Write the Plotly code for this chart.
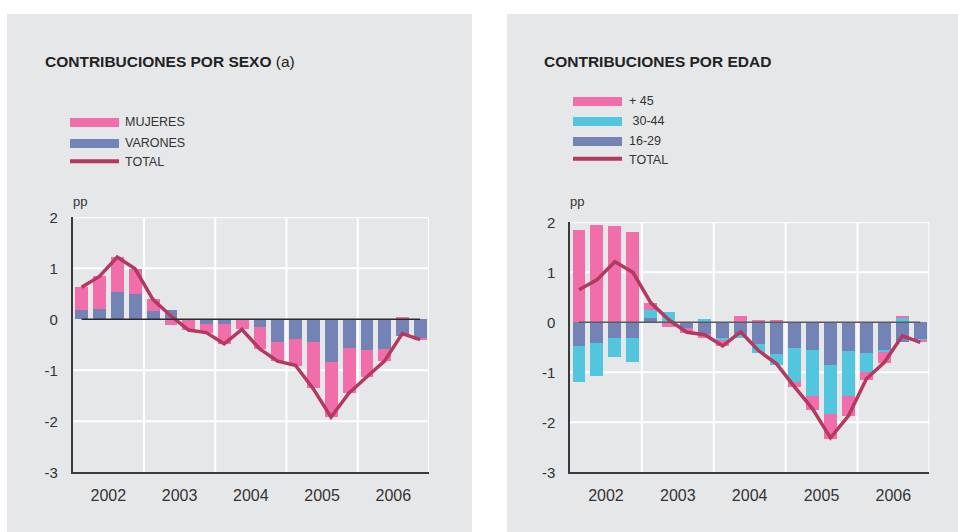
import plotly.graph_objects as go

# ---------------- data ----------------
years = ["2002", "2003", "2004", "2005", "2006"]
quarters = [f"{y} T{q}" for y in years for q in (1, 2, 3, 4)]

# Left panel: contributions by sex (pp)
varones = [0.18, 0.20, 0.53, 0.49, 0.16, 0.18, 0.00, -0.10, -0.10, 0.00,
           -0.16, -0.46, -0.40, -0.46, -0.85, -0.57, -0.61, -0.59, -0.33, -0.39]
mujeres = [0.44, 0.64, 0.69, 0.50, 0.23, -0.12, -0.21, -0.17, -0.39, -0.20,
           -0.43, -0.37, -0.52, -0.89, -1.07, -0.89, -0.52, -0.23, 0.02, -0.02]
total_sexo = [0.63, 0.84, 1.22, 0.99, 0.39, 0.07, -0.21, -0.26, -0.48, -0.20,
              -0.58, -0.82, -0.90, -1.36, -1.92, -1.45, -1.13, -0.82, -0.28, -0.40]

# Right panel: contributions by age (pp)
edad_16_29 = [-0.47, -0.41, -0.31, -0.31, 0.09, 0.00, -0.12, -0.23, -0.32, -0.25,
              -0.43, -0.63, -0.51, -0.55, -0.85, -0.57, -0.61, -0.57, -0.40, -0.35]
edad_30_44 = [-0.73, -0.67, -0.39, -0.49, 0.16, 0.20, 0.00, 0.07, -0.03, -0.06,
              -0.19, -0.23, -0.68, -0.92, -0.99, -0.90, -0.38, -0.02, 0.08, -0.02]
edad_45 = [1.85, 1.95, 1.93, 1.81, 0.14, -0.09, -0.10, -0.08, -0.13, 0.13,
           0.05, 0.05, -0.11, -0.29, -0.49, -0.40, -0.16, -0.22, 0.03, -0.03]
total_edad = [0.65, 0.85, 1.21, 1.00, 0.39, 0.05, -0.20, -0.25, -0.47, -0.19,
              -0.57, -0.83, -1.29, -1.73, -2.31, -1.87, -1.13, -0.80, -0.27, -0.40]

y_ticks = [-3, -2, -1, 0, 1, 2]
y_tick_labels = ["-3", "-2", "-1", "0", "1", "2"]

# ---------------- styles ----------------
W, H = 958, 532
PINK = "#F06EA9"
BLUE = "#7383B5"
CYAN = "#52C6DF"
LINE = "#B5385F"
BG = "#E6E7E9"
TXT = "#333333"
FONT = "Liberation Sans, Arial, sans-serif"


def px(x):
    return x / W


def py(y):
    return 1 - y / H


xpos = list(range(len(quarters)))
year_centers = [i * 4 + 1.5 for i in range(len(years))]
year_bounds = [i * 4 + 3.5 for i in range(len(years))]

fig = go.Figure()

# left panel traces
fig.add_trace(go.Bar(x=xpos, y=varones, name="VARONES", marker_color=BLUE,
                     marker_line_width=0, width=0.72, xaxis="x", yaxis="y",
                     showlegend=False))
fig.add_trace(go.Bar(x=xpos, y=mujeres, name="MUJERES", marker_color=PINK,
                     marker_line_width=0, width=0.72, xaxis="x", yaxis="y",
                     showlegend=False))
fig.add_trace(go.Scatter(x=xpos, y=total_sexo, name="TOTAL", mode="lines",
                         line=dict(color=LINE, width=3.5), xaxis="x", yaxis="y",
                         showlegend=False))

# right panel traces
fig.add_trace(go.Bar(x=xpos, y=edad_16_29, name="16-29", marker_color=BLUE,
                     marker_line_width=0, width=0.72, xaxis="x2", yaxis="y2",
                     showlegend=False))
fig.add_trace(go.Bar(x=xpos, y=edad_30_44, name="30-44", marker_color=CYAN,
                     marker_line_width=0, width=0.72, xaxis="x2", yaxis="y2",
                     showlegend=False))
fig.add_trace(go.Bar(x=xpos, y=edad_45, name="+ 45", marker_color=PINK,
                     marker_line_width=0, width=0.72, xaxis="x2", yaxis="y2",
                     showlegend=False))
fig.add_trace(go.Scatter(x=xpos, y=total_edad, name="TOTAL", mode="lines",
                         line=dict(color=LINE, width=3.5), xaxis="x2", yaxis="y2",
                         showlegend=False))

xaxis_common = dict(range=[-0.5, len(quarters) - 0.5], tickvals=year_centers,
                    ticktext=years, showgrid=False, zeroline=False, automargin=False,
                    showline=True, linecolor="#3a3a3a", linewidth=1.5,
                    ticks="", ticklabelstandoff=8,
                    tickfont=dict(family=FONT, size=16, color=TXT), fixedrange=True)
yaxis_common = dict(range=[-3, 2], tickvals=y_ticks, ticktext=y_tick_labels,
                    showgrid=False, zeroline=False, automargin=False,
                    showline=True, linecolor="#3a3a3a", linewidth=1.5, ticks="",
                    ticklabelstandoff=10,
                    tickfont=dict(family=FONT, size=15, color=TXT), fixedrange=True)

fig.update_layout(
    template="none",
    width=W, height=H,
    autosize=False,
    margin=dict(l=0, r=0, t=0, b=0, pad=0, autoexpand=False),
    paper_bgcolor="white",
    plot_bgcolor=BG,
    barmode="relative",
    bargap=0,
    font=dict(family=FONT, color=TXT),
    xaxis=dict(domain=[px(72.7), px(429)], anchor="y", **xaxis_common),
    yaxis=dict(domain=[py(472.3), py(217.3)], anchor="x", **yaxis_common),
    xaxis2=dict(domain=[px(570), px(929.3)], anchor="y2", **xaxis_common),
    yaxis2=dict(domain=[py(472.3), py(222.3)], anchor="x2", **yaxis_common),
)

shapes = []
# panels
shapes.append(dict(type="rect", xref="paper", yref="paper", x0=px(7), x1=px(472),
                   y0=0, y1=py(14), fillcolor=BG, line_width=0, layer="below"))
shapes.append(dict(type="rect", xref="paper", yref="paper", x0=px(507), x1=1,
                   y0=0, y1=py(14), fillcolor=BG, line_width=0, layer="below"))

for xa, ya, zc in (("x", "y", "#2a2a2a"), ("x2", "y2", "#5a5a5a")):
    for v in y_ticks:
        if v in (0, -3):
            continue
        shapes.append(dict(type="line", xref=f"{xa} domain", yref=ya, x0=0, x1=1,
                           y0=v, y1=v, line=dict(color="white", width=2),
                           layer="below"))
    for b in year_bounds:
        shapes.append(dict(type="line", xref=xa, yref=f"{ya} domain", x0=b, x1=b,
                           y0=0, y1=1, line=dict(color="white", width=2),
                           layer="below"))
    shapes.append(dict(type="line", xref=xa, yref=ya, x0=xpos[0], x1=xpos[-1],
                       y0=0, y1=0, line=dict(color=zc, width=1.6), layer="above"))


# legend swatches
def swatch(x0, yc, color, h):
    shapes.append(dict(type="rect", xref="paper", yref="paper", x0=px(x0), x1=px(x0 + 49),
                       y0=py(yc + h / 2), y1=py(yc - h / 2), fillcolor=color,
                       line_width=0, layer="above"))


swatch(70, 122.5, PINK, 9)
swatch(70, 143.5, BLUE, 9)
swatch(70, 161.3, LINE, 4)
swatch(573, 101.5, PINK, 9)
swatch(573, 121.5, CYAN, 9)
swatch(573, 141.5, BLUE, 9)
swatch(573, 158.7, LINE, 4)

fig.update_layout(shapes=shapes)

ann = []


def text(x, y, s, size=12.5, color=TXT):
    ann.append(dict(x=px(x), y=py(y), xref="paper", yref="paper", text=s,
                    showarrow=False, xanchor="left", yanchor="middle",
                    font=dict(family=FONT, size=size, color=color)))


text(43, 62, "<b>CONTRIBUCIONES POR SEXO</b> (a)", 15.5, "#222222")
text(542, 62, "<b>CONTRIBUCIONES POR EDAD</b>", 15.5, "#222222")
text(123, 122, "MUJERES")
text(123, 143, "VARONES")
text(123, 162, "TOTAL")
text(627, 101, "+ 45")
text(627, 121, " 30-44")
text(627, 141, "16-29")
text(627, 160, "TOTAL")
text(71, 201, "pp", 13)
text(568, 201, "pp", 13)

fig.update_layout(annotations=ann)

fig.write_html("out.html", config={"responsive": False, "displayModeBar": False},
               post_script="document.body.style.margin='0';document.body.style.overflow='hidden';")
